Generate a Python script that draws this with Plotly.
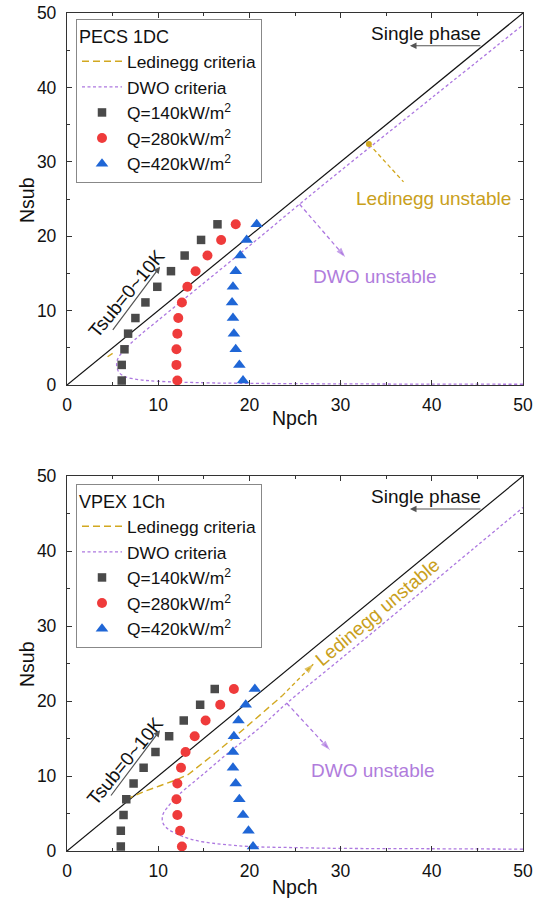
import plotly.graph_objects as go

# ---------------- data ----------------
nsub_levels = [0.6, 2.7, 4.8, 6.9, 9.0, 11.1, 13.2, 15.3, 17.4, 19.5, 21.6]

# Top panel: PECS 1DC
pecs_q140_npch = [6.0, 6.0, 6.3, 6.7, 7.5, 8.6, 9.9, 11.4, 12.9, 14.7, 16.5]
pecs_q280_npch = [12.1, 12.0, 12.0, 12.1, 12.2, 12.6, 13.2, 14.1, 15.4, 16.9, 18.5]
pecs_q420_npch = [19.3, 18.9, 18.5, 18.3, 18.2, 18.1, 18.2, 18.5, 19.0, 19.7, 20.8]

pecs_dwo_npch = [50, 40, 30, 20, 15, 10, 8, 6.4, 5.7, 5.45, 5.5, 5.8, 6.3, 7.0, 8.0, 10, 15, 20, 25, 30, 40, 50]
pecs_dwo_nsub = [0.1, 0.12, 0.15, 0.22, 0.3, 0.5, 0.7, 1.1, 1.7, 2.6, 3.3, 4.0, 4.7, 5.6, 6.7, 8.7, 13.7, 18.7, 23.8, 28.8, 38.6, 48.4]
pecs_led_npch = [4.45, 5.0]
pecs_led_nsub = [3.8, 4.25]

# Bottom panel: VPEX 1Ch
vpex_q140_npch = [5.9, 5.9, 6.2, 6.5, 7.3, 8.4, 9.7, 11.2, 12.8, 14.6, 16.2]
vpex_q280_npch = [12.6, 12.4, 12.1, 12.0, 12.1, 12.5, 13.0, 14.0, 15.2, 16.8, 18.3]
vpex_q420_npch = [20.4, 19.9, 19.3, 18.9, 18.5, 18.2, 18.2, 18.3, 18.8, 19.6, 20.6]

vpex_dwo_npch = [50, 40, 30, 25, 20, 17, 15, 13.5, 12.0, 11.0, 10.5, 10.5, 11.0, 12.0, 13.0, 14.6, 17.5, 21.0, 24.1, 30, 40, 50]
vpex_dwo_nsub = [0.25, 0.3, 0.35, 0.45, 0.6, 0.9, 1.2, 1.6, 2.3, 3.0, 3.8, 4.8, 5.8, 7.2, 8.3, 9.9, 12.9, 16.3, 19.7, 25.6, 35.7, 45.8]
vpex_led_npch = [6.5, 8.4, 10.2, 12.0, 13.3, 14.5, 16.0, 18.0, 20.0, 22.0, 23.6]
vpex_led_nsub = [6.9, 7.9, 8.7, 9.5, 10.2, 11.3, 12.8, 14.8, 16.9, 19.0, 20.7]

diag = [0, 50]
x_ticks = [0, 10, 20, 30, 40, 50]
y_ticks = [0, 10, 20, 30, 40, 50]

# ---------------- styles ----------------
FONT = "Liberation Sans, Arial, sans-serif"
C_SQ = "#4a4a4a"
C_CI = "#ef3b3b"
C_TR = "#1f66d6"
C_LED = "#d2a820"
C_LED_TXT = "#c9a01c"
C_DWO = "#ad78e0"
C_DWO_TXT = "#b07cdc"
C_ARR = "#555555"
DASH_LED = "7px,4px"
DASH_DWO = "3px,2.5px"
DASH_CALL = "4px,3px"

fig = go.Figure()

def add_panel(xa, ya, legend, q140, q280, q420, dwo_x, dwo_y, led_x, led_y):
    ax = dict(xaxis=xa, yaxis=ya)
    fig.add_trace(go.Scatter(x=diag, y=diag, mode="lines", line=dict(color="#111111", width=1.2),
                             showlegend=False, hoverinfo="skip", **ax))
    fig.add_trace(go.Scatter(x=led_x, y=led_y, mode="lines", name="Ledinegg criteria",
                             line=dict(color=C_LED, width=1.4, dash=DASH_LED), legend=legend, **ax))
    fig.add_trace(go.Scatter(x=dwo_x, y=dwo_y, mode="lines", name="DWO criteria",
                             line=dict(color=C_DWO, width=1.3, dash=DASH_DWO), legend=legend,
                             line_shape="spline", **ax))
    fig.add_trace(go.Scatter(x=q140, y=nsub_levels, mode="markers", name="Q=140kW/m<sup>2</sup>",
                             marker=dict(symbol="square", size=8.5, color=C_SQ), legend=legend,
                             cliponaxis=False, **ax))
    fig.add_trace(go.Scatter(x=q280, y=nsub_levels, mode="markers", name="Q=280kW/m<sup>2</sup>",
                             marker=dict(symbol="circle", size=10, color=C_CI), legend=legend,
                             cliponaxis=False, **ax))
    fig.add_trace(go.Scatter(x=q420, y=nsub_levels, mode="markers", name="Q=420kW/m<sup>2</sup>",
                             marker=dict(symbol="triangle-up", size=11, color=C_TR), legend=legend,
                             cliponaxis=False, **ax))

add_panel("x", "y", "legend", pecs_q140_npch, pecs_q280_npch, pecs_q420_npch,
          pecs_dwo_npch, pecs_dwo_nsub, pecs_led_npch, pecs_led_nsub)
add_panel("x2", "y2", "legend2", vpex_q140_npch, vpex_q280_npch, vpex_q420_npch,
          vpex_dwo_npch, vpex_dwo_nsub, vpex_led_npch, vpex_led_nsub)

def callout(xa, ya, x0, y0, x1, y1, color, start_dot=False, head=True):
    fig.add_trace(go.Scatter(x=[x0, x1], y=[y0, y1], mode="lines",
                             line=dict(color=color, width=1.3, dash=DASH_CALL),
                             showlegend=False, hoverinfo="skip", xaxis=xa, yaxis=ya))
    if start_dot:
        fig.add_trace(go.Scatter(x=[x0], y=[y0], mode="markers",
                                 marker=dict(symbol="circle", size=6, color=color),
                                 showlegend=False, hoverinfo="skip", xaxis=xa, yaxis=ya))
    if head:
        fig.add_trace(go.Scatter(x=[x0, x1], y=[y0, y1], mode="markers",
                                 marker=dict(symbol="arrow", size=[0, 10], color=color,
                                             angleref="previous", line=dict(width=0)),
                                 showlegend=False, hoverinfo="skip", xaxis=xa, yaxis=ya))

# Top panel callouts
callout("x", "y", 33.1, 32.4, 36.9, 27.3, C_LED, start_dot=True, head=False)
callout("x", "y", 25.5, 24.3, 30.5, 17.2, C_DWO)
# Bottom panel callouts
callout("x2", "y2", 23.6, 20.7, 27.0, 24.9, C_LED)
callout("x2", "y2", 24.1, 19.7, 28.8, 13.5, C_DWO)

annotations = []
def text(xr, yr, x, y, s, color="#111111", angle=0, size=19):
    annotations.append(dict(xref=xr, yref=yr, x=x, y=y, text=s, showarrow=False,
                            textangle=angle, font=dict(family=FONT, size=size, color=color)))

def arrow(xr, yr, x0, y0, x1, y1, color=C_ARR):
    annotations.append(dict(xref=xr, yref=yr, axref=xr, ayref=yr, x=x1, y=y1, ax=x0, ay=y0,
                            text="", showarrow=True, arrowhead=2, arrowsize=1.1, arrowwidth=1.2,
                            arrowcolor=color, standoff=0, startstandoff=0))

for xr, yr in (("x", "y"), ("x2", "y2")):
    text(xr, yr, 39.4, 47.3, "Single phase")
    arrow(xr, yr, 45.5, 45.6, 37.6, 45.6)

text("x", "y", 6.55, 12.3, "Tsub=0~10K", angle=-50.5)
arrow("x", "y", 4.9, 7.2, 10.2, 15.9)
text("x2", "y2", 6.36, 11.9, "Tsub=0~10K", angle=-50.5)
arrow("x2", "y2", 4.7, 7.2, 10.2, 16.1)

text("x", "y", 40.2, 25.1, "Ledinegg unstable", color=C_LED_TXT)
text("x", "y", 33.8, 14.6, "DWO unstable", color=C_DWO_TXT)
text("x2", "y2", 34.0, 31.8, "Ledinegg unstable", color=C_LED_TXT, angle=-40)
text("x2", "y2", 33.6, 10.8, "DWO unstable", color=C_DWO_TXT)

W, H = 542, 904
xdom = [67 / W, 523 / W]
ydom_top = [1 - 385 / H, 1 - 13 / H]
ydom_bot = [1 - 851 / H, 1 - 476 / H]

# axis titles placed as paper annotations
AX_TITLE = dict(family=FONT, size=19.5, color="#111111")
for yc_npch, yc_nsub in ((418, 200), (887, 664)):
    annotations.append(dict(xref="paper", yref="paper", x=295 / W, y=1 - yc_npch / H, text="Npch",
                            showarrow=False, font=AX_TITLE, xanchor="center", yanchor="middle"))
    annotations.append(dict(xref="paper", yref="paper", x=27 / W, y=1 - yc_nsub / H, text="Nsub",
                            showarrow=False, font=AX_TITLE, textangle=-90,
                            xanchor="center", yanchor="middle"))

def xaxis(dom, anchor):
    return dict(domain=dom, anchor=anchor, range=[0, 50], tickvals=x_ticks, ticks="inside", ticklen=5,
                tickwidth=1.2, tickcolor="#333333", showline=True, linecolor="#333333", linewidth=1.3,
                mirror="ticks", showgrid=False, zeroline=False, automargin=False,
                minor=dict(ticks="inside", dtick=5, ticklen=3, tickcolor="#333333", showgrid=False),
                tickfont=dict(family=FONT, size=17.5, color="#111111"), ticklabelstandoff=4)

def yaxis(dom, anchor):
    return dict(domain=dom, anchor=anchor, range=[0, 50], tickvals=y_ticks, ticks="inside", ticklen=5,
                tickwidth=1.2, tickcolor="#333333", showline=True, linecolor="#333333", linewidth=1.3,
                mirror="ticks", showgrid=False, zeroline=False, automargin=False,
                minor=dict(ticks="inside", dtick=5, ticklen=3, tickcolor="#333333", showgrid=False),
                tickfont=dict(family=FONT, size=17.5, color="#111111"), ticklabelstandoff=6)

def legend(y, title):
    return dict(x=76 / W, y=y, xanchor="left", yanchor="top", bgcolor="white",
                bordercolor="#888888", borderwidth=1, itemwidth=40,
                font=dict(family=FONT, size=17.4, color="#111111"),
                title=dict(text=title, font=dict(family=FONT, size=18, color="#111111")),
                tracegroupgap=0)

fig.update_layout(
    width=W, height=H, margin=dict(l=0, r=0, t=0, b=0, autoexpand=False),
    paper_bgcolor="white", plot_bgcolor="white",
    font=dict(family=FONT, color="#111111"),
    xaxis=xaxis(xdom, "y"), yaxis=yaxis(ydom_top, "x"),
    xaxis2=xaxis(xdom, "y2"), yaxis2=yaxis(ydom_bot, "x2"),
    legend=legend(1 - 19 / H, "PECS 1DC"),
    legend2=legend(1 - 484 / H, "VPEX 1Ch"),
    annotations=annotations,
)

fig.write_html("out.html")
